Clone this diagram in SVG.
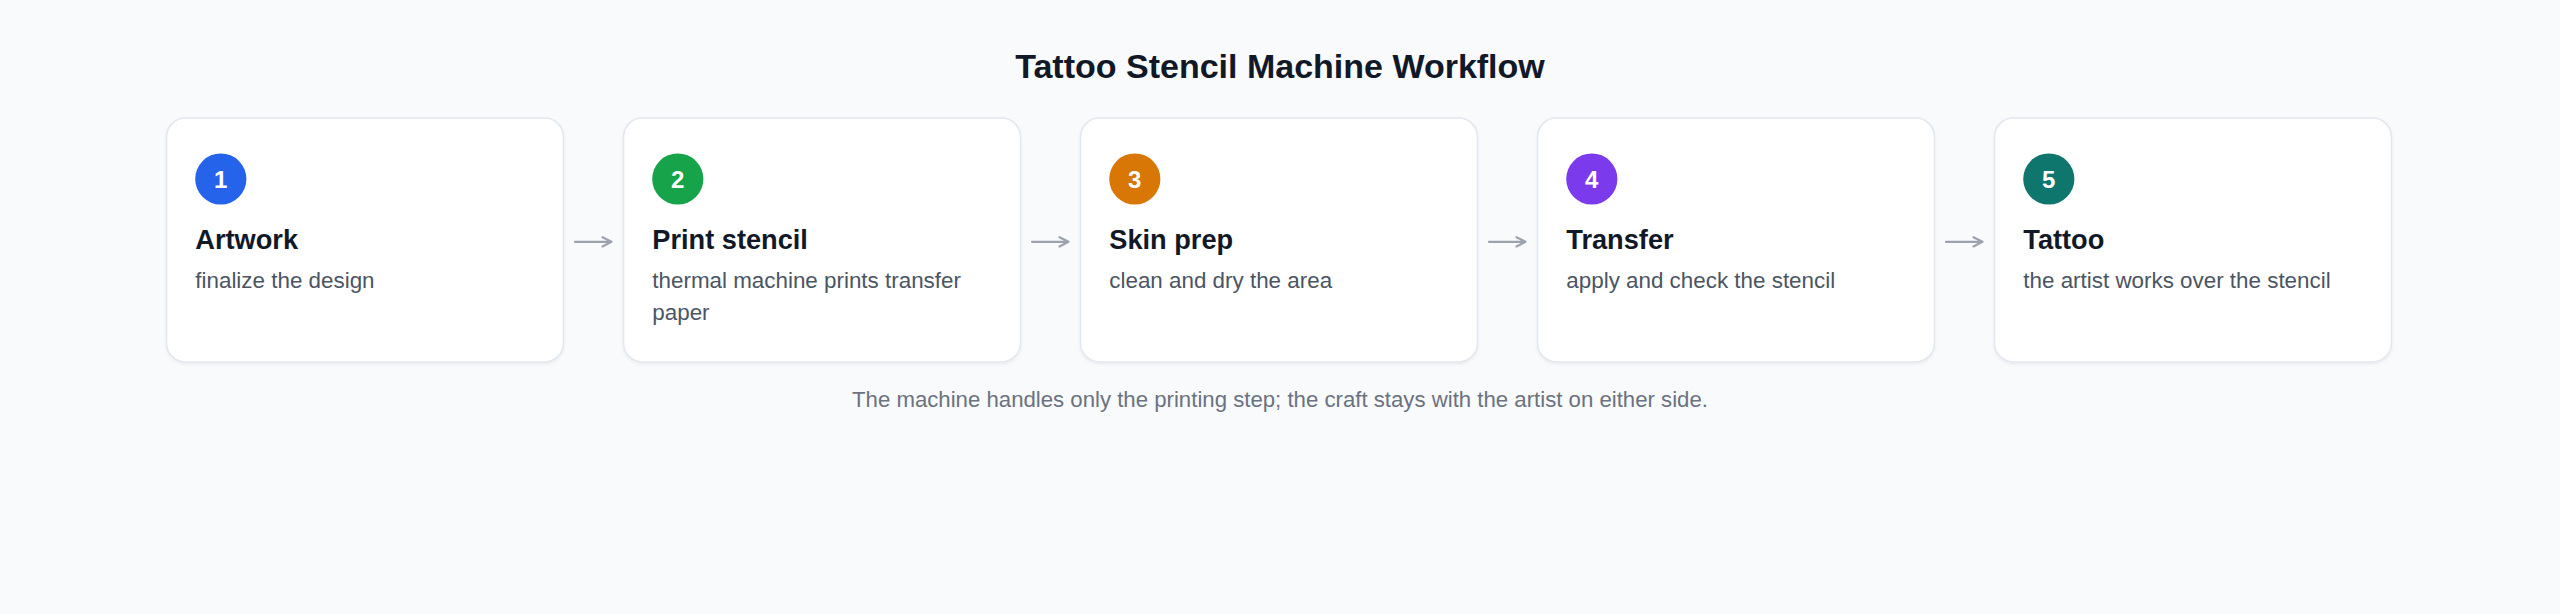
<svg xmlns="http://www.w3.org/2000/svg" width="2560" height="614" viewBox="0 0 2560 614">
<style>
.bg{fill:#f8fafc}
.card{fill:#ffffff;stroke:#e2e8f0;stroke-width:1.6}
.num{font-family:"Liberation Sans",Arial,sans-serif;font-size:24px;font-weight:700;fill:#ffffff;text-anchor:middle}
.ttl{font-family:"Liberation Sans",Arial,sans-serif;font-size:27.2px;font-weight:700;fill:#111827}
.desc{font-family:"Liberation Sans",Arial,sans-serif;font-size:22.4px;fill:#4b5563}
.head{font-family:"Liberation Sans",Arial,sans-serif;font-size:34px;font-weight:700;fill:#111827;text-anchor:middle}
.foot{font-family:"Liberation Sans",Arial,sans-serif;font-size:22.2px;fill:#6b7280;text-anchor:middle}
.conn{stroke:#9ca3af;stroke-width:2.2;fill:none;stroke-linecap:round;stroke-linejoin:round}
</style>
<defs>
<filter id="sh" x="-5%" y="-5%" width="110%" height="115%">
<feDropShadow dx="0" dy="1.5" stdDeviation="1.5" flood-color="#0f172a" flood-opacity="0.06"/>
</filter>
</defs>
<rect class="bg" x="0" y="0" width="2560" height="614"/>
<text class="head" x="1280" y="78">Tattoo Stencil Machine Workflow</text>

<g id="step1">
<rect class="card" x="166.5" y="118" width="397" height="244" rx="19" filter="url(#sh)"/>
<circle cx="220.8" cy="179" r="25.6" fill="#2563eb"/>
<text class="num" x="220.8" y="187.6">1</text>
<text class="ttl" x="195.3" y="248.5">Artwork</text>
<text class="desc" x="195.3" y="288">finalize the design</text>
</g>

<g id="step2">
<rect class="card" x="623.5" y="118" width="397" height="244" rx="19" filter="url(#sh)"/>
<circle cx="677.8" cy="179" r="25.6" fill="#16a34a"/>
<text class="num" x="677.8" y="187.6">2</text>
<text class="ttl" x="652.3" y="248.5">Print stencil</text>
<text class="desc" x="652.3" y="288">thermal machine prints transfer</text>
<text class="desc" x="652.3" y="319.5">paper</text>
</g>

<g id="step3">
<rect class="card" x="1080.5" y="118" width="397" height="244" rx="19" filter="url(#sh)"/>
<circle cx="1134.8" cy="179" r="25.6" fill="#d97706"/>
<text class="num" x="1134.8" y="187.6">3</text>
<text class="ttl" x="1109.3" y="248.5">Skin prep</text>
<text class="desc" x="1109.3" y="288">clean and dry the area</text>
</g>

<g id="step4">
<rect class="card" x="1537.5" y="118" width="397" height="244" rx="19" filter="url(#sh)"/>
<circle cx="1591.8" cy="179" r="25.6" fill="#7c3aed"/>
<text class="num" x="1591.8" y="187.6">4</text>
<text class="ttl" x="1566.3" y="248.5">Transfer</text>
<text class="desc" x="1566.3" y="288">apply and check the stencil</text>
</g>

<g id="step5">
<rect class="card" x="1994.5" y="118" width="397" height="244" rx="19" filter="url(#sh)"/>
<circle cx="2048.8" cy="179" r="25.6" fill="#0f766e"/>
<text class="num" x="2048.8" y="187.6">5</text>
<text class="ttl" x="2023.3" y="248.5">Tattoo</text>
<text class="desc" x="2023.3" y="288">the artist works over the stencil</text>
</g>

<g id="connectors">
<path class="conn" d="M575 241.8H611.5M602.5 237.2L611.5 241.8L602.5 246.4"/>
<path class="conn" d="M1032 241.8H1068.5M1059.5 237.2L1068.5 241.8L1059.5 246.4"/>
<path class="conn" d="M1489 241.8H1525.5M1516.5 237.2L1525.5 241.8L1516.5 246.4"/>
<path class="conn" d="M1946 241.8H1982.5M1973.5 237.2L1982.5 241.8L1973.5 246.4"/>
</g>

<text class="foot" x="1280" y="407">The machine handles only the printing step; the craft stays with the artist on either side.</text>
</svg>
